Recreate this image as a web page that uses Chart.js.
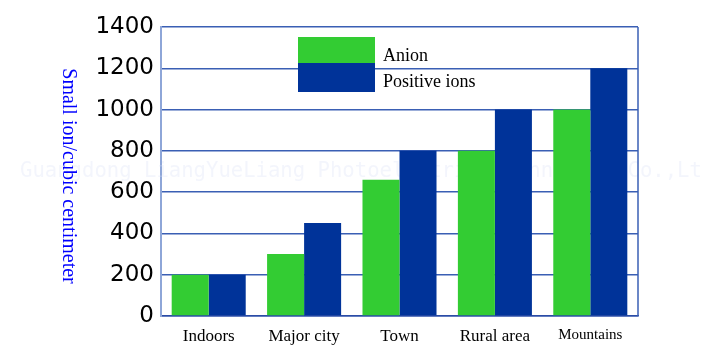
<!DOCTYPE html>
<html>
<head>
<meta charset="utf-8">
<script src="https://cdn.jsdelivr.net/npm/chart.js@4/dist/chart.umd.min.js"></script>
<style>
  html, body { margin: 0; padding: 0; background: #fff; }
  #ionChart { display: block; }
</style>
</head>
<body>
<canvas id="ionChart" width="702" height="349"></canvas>
<script>
// Ion counts per location
const places = ["Indoors", "Major city", "Town", "Rural area", "Mountains"];
const anionValues = [200, 300, 660, 800, 1000];
const positiveValues = [200, 450, 800, 1000, 1200];
const seriesNames = ["Anion", "Positive ions"];
const yTitle = "Small ion/cubic centimeter";
const watermark = "Guangdong LiangYueLiang Photoelectric Technology Co.,Ltd";

const GREEN = "#33cc33";
const NAVY = "#003399";
const GRID = "#3a5fb4";

// Faint company name across the plot, under the bars
const watermarkPlugin = {
  id: "watermark",
  beforeDatasetsDraw(chart) {
    const ctx = chart.ctx;
    ctx.save();
    ctx.font = "20.6px 'DejaVu Sans Mono'";
    ctx.fillStyle = "rgba(215, 222, 245, 0.3)";
    ctx.textBaseline = "middle";
    ctx.textAlign = "left";
    ctx.fillText(watermark, 20, 172);
    ctx.restore();
  }
};

// Right frame line, rotated axis title and the stacked legend boxes
const decorPlugin = {
  id: "decor",
  afterDraw(chart) {
    const ctx = chart.ctx;
    const area = chart.chartArea;
    ctx.save();

    ctx.strokeStyle = GRID;
    ctx.lineWidth = 1.5;
    ctx.beginPath();
    ctx.moveTo(area.right, area.top);
    ctx.lineTo(area.right, area.bottom);
    ctx.stroke();

    ctx.translate(68, 176);
    ctx.rotate(Math.PI / 2);
    ctx.font = "20px 'Liberation Serif'";
    ctx.fillStyle = "#0000ff";
    ctx.textAlign = "center";
    ctx.textBaseline = "middle";
    ctx.fillText(yTitle, 0, 0);
    ctx.setTransform(1, 0, 0, 1, 0, 0);

    const sets = chart.data.datasets;
    ctx.fillStyle = sets[0].backgroundColor;
    ctx.fillRect(298, 37, 77, 26);
    ctx.fillStyle = sets[1].backgroundColor;
    ctx.fillRect(298, 63, 77, 29);

    ctx.font = "18px 'Liberation Serif'";
    ctx.fillStyle = "#000";
    ctx.textAlign = "left";
    ctx.textBaseline = "alphabetic";
    ctx.fillText(sets[0].label, 383, 61);
    ctx.fillText(sets[1].label, 383, 87);
    ctx.restore();
  }
};

new Chart(document.getElementById("ionChart"), {
  type: "bar",
  data: {
    labels: places,
    datasets: [{
      label: seriesNames[0],
      data: anionValues,
      backgroundColor: GREEN,
      categoryPercentage: 0.776,
      barPercentage: 1
    }, {
      label: seriesNames[1],
      data: positiveValues,
      backgroundColor: NAVY,
      categoryPercentage: 0.776,
      barPercentage: 1
    }]
  },
  options: {
    responsive: false,
    animation: false,
    layout: { padding: { left: 0, right: 64, top: 27, bottom: 0 } },
    plugins: {
      legend: { display: false },
      tooltip: { enabled: false }
    },
    scales: {
      x: {
        grid: { display: false, drawTicks: false },
        border: { display: true, color: "#2b4ca6", width: 1.5 },
        ticks: {
          color: "#000",
          padding: 10,
          maxRotation: 0,
          font: c => ({
            family: "'Liberation Serif'",
            size: c.index === 4 ? 15 : 17
          })
        },
        afterFit(scale) { scale.height = 33; }
      },
      y: {
        min: 0,
        max: 1400,
        ticks: {
          stepSize: 200,
          color: "#000",
          padding: 7,
          font: { family: "'DejaVu Sans'", size: 23 },
          callback: v => String(v)
        },
        grid: { color: GRID, lineWidth: 1.5, drawTicks: false },
        border: { display: true, color: "#8ea6d8", width: 2 },
        afterFit(scale) { scale.width = 161; }
      }
    }
  },
  plugins: [watermarkPlugin, decorPlugin]
});
</script>
</body>
</html>
